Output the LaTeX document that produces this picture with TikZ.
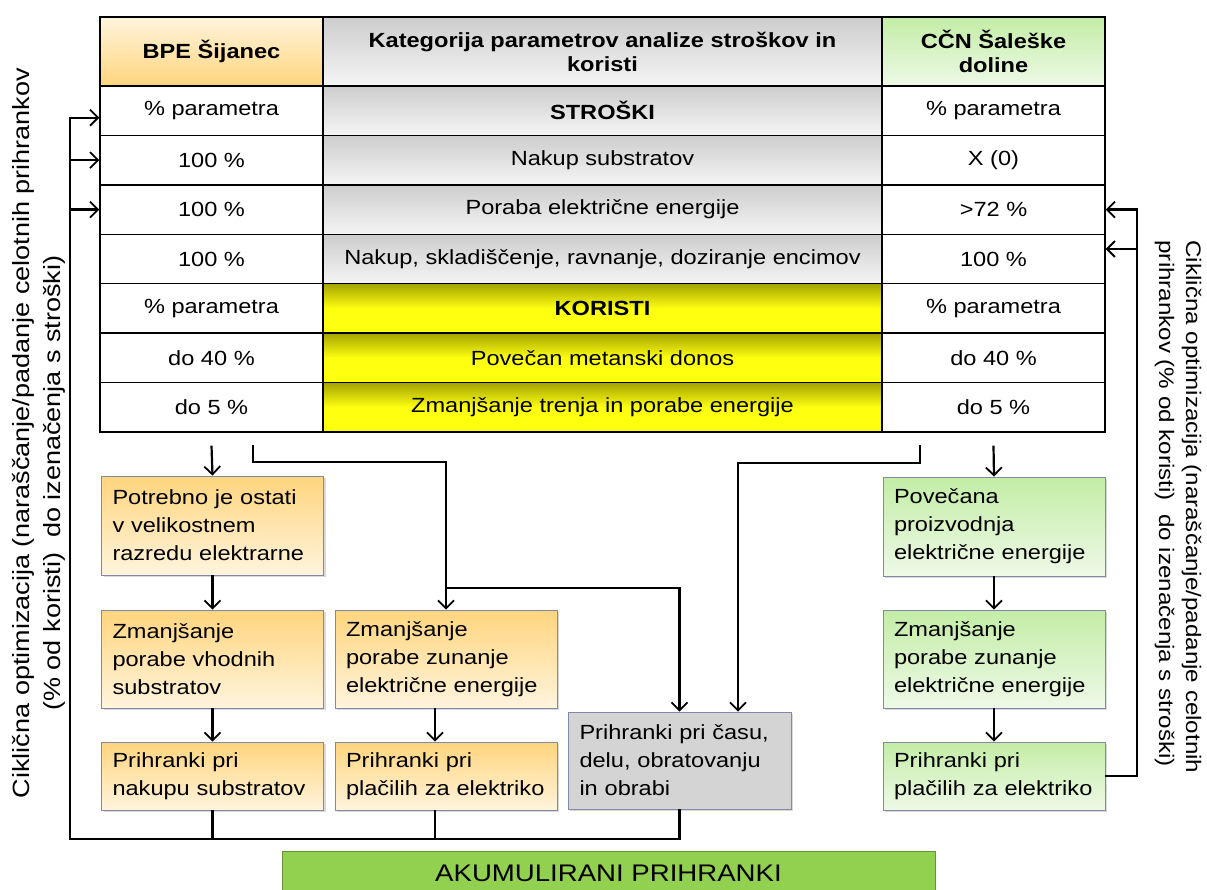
\documentclass[tikz,border=0pt]{standalone}
\usepackage{fontspec}
\setmainfont{Liberation Sans}[FakeStretch=1.15]
\usetikzlibrary{positioning,arrows.meta,shadows}

\definecolor{orTop}{HTML}{FFD57D}
\definecolor{orBot}{HTML}{FFF4DD}
\definecolor{grTop}{HTML}{C3EDA6}
\definecolor{grBot}{HTML}{EEF9E7}
\definecolor{gyTop}{HTML}{CDCDCD}
\definecolor{gyBot}{HTML}{F5F5F5}
\definecolor{ylTop}{HTML}{A4A400}
\definecolor{ylBot}{HTML}{FFFF10}
\definecolor{boxLine}{HTML}{8388A8}
\definecolor{akumFill}{HTML}{92D050}

\tikzset{
  cell/.style={draw=black, line width=1.4pt, minimum width=223pt, minimum height=49.43pt,
    inner sep=0pt, align=center, font=\fontsize{20.5}{24}\selectfont},
  midcell/.style={cell, minimum width=559pt},
  hdr/.style={minimum height=69pt, font=\bfseries\fontsize{20.5}{24}\selectfont},
  grayfill/.style={top color=gyTop, bottom color=gyBot},
  yellfill/.style={top color=ylTop, bottom color=ylBot, middle color=ylBot},
  stepbox/.style={draw=boxLine, line width=0.8pt, minimum width=222pt, text width=200pt,
    inner xsep=11pt, align=left, font=\fontsize{20.5}{28}\selectfont,
    drop shadow={shadow xshift=2pt, shadow yshift=-2pt, opacity=0.3}},
  orbox/.style={stepbox, top color=orTop, bottom color=orBot},
  grbox/.style={stepbox, top color=grTop, bottom color=grBot},
  arr/.style={line width=2.2pt, -{Straight Barb[length=8pt,width=16pt,line width=1.8pt]}},
  ln/.style={line width=2.2pt}
}

\begin{document}
\begin{tikzpicture}[x=1pt,y=-1pt]
	\useasboundingbox (0,0) rectangle (1207,889);

	% glava tabele
	\node[cell, hdr, top color=orBot, bottom color=orTop] (L0) at (211.5,51.5) {BPE Šijanec};
	\node[midcell, hdr, grayfill] (M0) at (602.5,51.5) {Kategorija parametrov analize stroškov in\\koristi};
	\node[cell, hdr, top color=grTop, bottom color=grBot] (R0) at (993.5,51.5) {CČN Šaleške\\doline};

	% levi in desni stolpec
	\foreach \i/\txt in {1/{\% parametra},2/{100 \%},3/{100 \%},4/{100 \%},5/{\% parametra},6/{do 40 \%},7/{do 5 \%}}
		\node[cell, fill=white] (L\i) at (211.5,{86+(\i-0.5)*49.43}) {\txt};
	\foreach \i/\txt in {1/{\% parametra},2/{X (0)},3/{>72 \%},4/{100 \%},5/{\% parametra},6/{do 40 \%},7/{do 5 \%}}
		\node[cell, fill=white] (R\i) at (993.5,{86+(\i-0.5)*49.43}) {\txt};

	% srednji stolpec
	\node[midcell, grayfill, font=\bfseries\fontsize{20.5}{24}\selectfont] (M1) at (602.5,110.7) {STROŠKI};
	\node[midcell, grayfill] (M2) at (602.5,160.1) {Nakup substratov};
	\node[midcell, grayfill] (M3) at (602.5,209.6) {Poraba električne energije};
	\node[midcell, grayfill] (M4) at (602.5,259.0) {Nakup, skladiščenje, ravnanje, doziranje encimov};
	\node[midcell, yellfill, font=\bfseries\fontsize{20.5}{24}\selectfont] (M5) at (602.5,308.4) {KORISTI};
	\node[midcell, yellfill] (M6) at (602.5,357.9) {Povečan metanski donos};
	\node[midcell, yellfill] (M7) at (602.5,407.3) {Zmanjšanje trenja in porabe energije};

	% skatle spodaj
	\node[orbox, minimum height=99pt] (pot) at (212.5,525.5) {Potrebno je ostati\\v velikostnem\\razredu elektrarne};
	\node[orbox, minimum height=98pt] (zsub) at (212.5,659) {Zmanjšanje\\porabe vhodnih\\substratov};
	\node[orbox, minimum height=68pt] (pnak) at (212.5,776) {Prihranki pri\\nakupu substratov};
	\node[orbox, minimum height=98pt] (zel) at (446,659) {Zmanjšanje\\porabe zunanje\\električne energije};
	\node[orbox, minimum height=68pt] (pel) at (446,776) {Prihranki pri\\plačilih za elektriko};
	\node[stepbox, fill=gyTop!85, minimum width=223pt, minimum height=97pt] (pcas) at (679.5,760.5) {Prihranki pri času,\\delu, obratovanju\\in obrabi};
	\node[grbox, minimum height=99pt] (pov) at (994,526.5) {Povečana\\proizvodnja\\električne energije};
	\node[grbox, minimum height=98pt] (zel2) at (994,659) {Zmanjšanje\\porabe zunanje\\električne energije};
	\node[grbox, minimum height=68pt] (pel2) at (994,776) {Prihranki pri\\plačilih za elektriko};
	\node[draw=akumFill!70!black, line width=0.8pt, fill=akumFill, minimum width=653pt, minimum height=44pt,
		font=\fontsize{24}{28}\selectfont] (akum) at (608.5,873) {AKUMULIRANI PRIHRANKI};

	% stranska besedila
	\node[rotate=90, align=center, font=\fontsize{23.5}{31}\selectfont] (cikL) at (39,433)
		{Ciklična optimizacija (naraščanje/padanje celotnih prihrankov\\(\% od koristi)\ \ do izenačenja s stroški)\hspace*{100pt}};
	\node[rotate=-90, align=left, anchor=north west, font=\fontsize{21}{27}\selectfont] (cikR) at (1205,237)
		{Ciklična optimizacija (naraščanje/padanje celotnih\\prihrankov (\% od koristi)\ \ do izenačenja s stroški)};

	% puscice levo
	\draw[arr] ([yshift=-13pt]L7.south) -- (pot.north);
	\draw[arr] (pot) -- (zsub);
	\draw[arr] (zsub) -- (pnak);
	\draw[arr] ([xshift=-11pt]zel.south) -- ([xshift=-11pt]pel.north);
	\coordinate (sL) at (253,445);
	\coordinate (kL) at (446,462);
	\coordinate (bL) at (446,588);
	\draw[arr] (sL) |- (kL) -- (zel.north);
	\draw[arr] (bL) -| (pcas.north);
	\coordinate (sR) at (920,445);
	\coordinate (kR) at (738,463);
	\draw[arr] (sR) |- (kR) -- (kR |- pcas.north);

	% puscice desno
	\draw[arr] ([yshift=-13pt]R7.south) -- (pov.north);
	\draw[arr] (pov) -- (zel2);
	\draw[arr] (zel2) -- (pel2);

	% povratna zanka levo
	\coordinate (bot) at (70,839);
	\draw[arr] (pnak.south) |- (bot) |- ([yshift=-7pt]L1.west);
	\draw[ln] ([xshift=-11pt]pel.south) -- ([xshift=-11pt]pel.south |- bot);
	\draw[ln] (pcas.south) |- (pnak.south |- bot);
	\draw[arr] (bot |- L2.west) -- (L2.west);
	\draw[arr] (bot |- L3.west) -- (L3.west);

	% povratna zanka desno
	\draw[arr] (pel2.east) -| ([xshift=31pt]R3.east) -- (R3.east);
	\draw[arr] ([xshift=31pt,yshift=10pt]R4.east) -- ([yshift=10pt]R4.east);
\end{tikzpicture}
\end{document}
